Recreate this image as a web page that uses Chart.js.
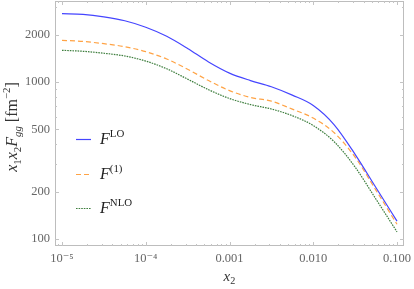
<!DOCTYPE html>
<html>
<head>
<meta charset="utf-8">
<script src="https://cdn.jsdelivr.net/npm/chart.js@4.4.0/dist/chart.umd.min.js"></script>
<style>
html,body{margin:0;padding:0;background:#fff;}
#wrap{width:414px;height:289px;position:relative;}
</style>
</head>
<body>
<div id="wrap"><canvas id="c" width="414" height="289"></canvas></div>
<script>
// ---- data ----
const x2Values = [1e-5, 1.78e-5, 3.16e-5, 5.62e-5, 1e-4, 1.78e-4, 3.16e-4, 5.62e-4, 1e-3, 1.78e-3, 3.16e-3, 5.62e-3, 0.01, 0.0178, 0.0316, 0.0562, 0.1];
const fLO  = [2723, 2696, 2602, 2457, 2234, 1957, 1637, 1341, 1139, 1021, 933, 825, 709, 534, 346, 212, 130];
const f1   = [1843, 1814, 1754, 1678, 1560, 1401, 1206, 1021, 881, 797, 755, 672, 589, 475, 332, 204, 124];
const fNLO = [1592, 1569, 1525, 1464, 1359, 1214, 1043, 893, 785, 718, 673, 610, 528, 416, 287, 179, 111];

const xTickValues = [1e-5, 1e-4, 1e-3, 1e-2, 1e-1];
const xTickLabels = ["10\u207B\u2075", "10\u207B\u2074", "0.001", "0.010", "0.100"];
const yTickValues = [100, 200, 500, 1000, 2000];
const yTickLabels = ["100", "200", "500", "1000", "2000"];

const legendNames = [
  [{t:"F", i:true}, {t:"LO", sup:true}],
  [{t:"F", i:true}, {t:"(1)", sup:true}],
  [{t:"F", i:true}, {t:"NLO", sup:true}]
];
const yTitle = [{t:"x",i:true},{t:"1",sub:true},{t:"x",i:true},{t:"2",sub:true},{t:"F",i:true},{t:"gg",i:true,sub:true},{t:" [fm"},{t:"\u22122",sup:true},{t:"]"}];
const xTitle = [{t:"x",i:true},{t:"2",sub:true}];

const colors = ["#4545ff", "#ffa345", "#3f7f3f"];
const dashes = [[], [5, 3], [1.6, 1]];

const FONT = "'Liberation Serif', 'DejaVu Serif', serif";

function toPts(ys){ return x2Values.map((x,i)=>({x:x, y:ys[i]})); }

function drawRich(ctx, segs, x, y, size, color, align){
  const parts = segs.map(s=>{
    const fs = (s.sub||s.sup) ? size*0.68 : size;
    const f = (s.i ? "italic " : "") + fs + "px " + FONT;
    ctx.font = f;
    return {s, f, w: ctx.measureText(s.t).width, dy: s.sub ? size*0.22 : (s.sup ? -size*0.42 : 0)};
  });
  const total = parts.reduce((a,p)=>a+p.w,0);
  let cx = align === "center" ? x - total/2 : x;
  ctx.fillStyle = color;
  ctx.textBaseline = "alphabetic";
  ctx.textAlign = "left";
  parts.forEach(p=>{ ctx.font = p.f; ctx.fillText(p.s.t, cx, y + p.dy); cx += p.w; });
}

const framePlugin = {
  id: "frame",
  afterDraw(chart){
    const ctx = chart.ctx, a = chart.chartArea;
    const xs = chart.scales.x, ys = chart.scales.y;
    ctx.save();
    ctx.strokeStyle = "#bdbdbd";
    ctx.lineWidth = 1;
    ctx.strokeRect(a.left+0.5, a.top+0.5, a.right-a.left-1, a.bottom-a.top-1);
    ctx.strokeStyle = "#c4c4c4";
    ctx.beginPath();
    for (let e=-6; e<=0; e++){
      for (let k=1; k<=9; k++){
        const v = k*Math.pow(10,e);
        if (v < xs.min || v > xs.max) continue;
        const px = Math.round(xs.getPixelForValue(v))+0.5;
        const L = k===1 ? 4 : 2;
        ctx.moveTo(px, a.bottom); ctx.lineTo(px, a.bottom-L);
        ctx.moveTo(px, a.top); ctx.lineTo(px, a.top+L);
      }
    }
    for (let e=1; e<=4; e++){
      for (let k=1; k<=9; k++){
        const v = k*Math.pow(10,e);
        if (v < ys.min || v > ys.max) continue;
        const py = Math.round(ys.getPixelForValue(v))+0.5;
        const L = yTickValues.includes(v) ? 4 : 2;
        ctx.moveTo(a.left, py); ctx.lineTo(a.left+L, py);
        ctx.moveTo(a.right, py); ctx.lineTo(a.right-L, py);
      }
    }
    ctx.stroke();

    const ly = [139, 174, 208];
    chart.data.datasets.forEach((ds,i)=>{
      ctx.strokeStyle = ds.borderColor;
      ctx.lineWidth = 1.2;
      ctx.setLineDash(dashes[i]);
      ctx.beginPath();
      ctx.moveTo(76, ly[i]+0.5); ctx.lineTo(91, ly[i]+0.5);
      ctx.stroke();
      ctx.setLineDash([]);
      drawRich(ctx, legendNames[i], 100, ly[i]+5, 16, "#222", "left");
    });

    drawRich(ctx, xTitle, (a.left+a.right)/2, 281, 15, "#333", "center");
    ctx.translate(17, 127);
    ctx.rotate(-Math.PI/2);
    drawRich(ctx, yTitle, 0, 0, 16, "#333", "center");
    ctx.restore();
  }
};

new Chart(document.getElementById("c"), {
  type: "scatter",
  data: {
    datasets: [
      {label:"F LO", data: toPts(fLO)},
      {label:"F (1)", data: toPts(f1)},
      {label:"F NLO", data: toPts(fNLO)}
    ].map((d,i)=>Object.assign(d, {
      showLine: true, borderColor: colors[i], backgroundColor: colors[i],
      borderWidth: 1.2, borderDash: dashes[i], pointRadius: 0,
      cubicInterpolationMode: "monotone", fill: false
    }))
  },
  options: {
    responsive: false, animation: false, devicePixelRatio: 1,
    layout: {padding: {top: 1, right: 10, left: 0, bottom: 0}},
    plugins: {legend: {display: false}, tooltip: {enabled: false}},
    scales: {
      x: {
        type: "logarithmic", min: 8.25e-6, max: 0.1212,
        grid: {display: false, drawTicks: false}, border: {display: false},
        afterBuildTicks: s => { s.ticks = xTickValues.map(v=>({value:v})); },
        afterFit: s => { s.height = 43; s.paddingLeft = 0; s.paddingRight = 0; },
        ticks: {autoSkip:false, maxRotation:0, padding: 5, color: "#666",
          font: {family: FONT, size: 12.5},
          callback: (v, i) => xTickLabels[i]}
      },
      y: {
        type: "logarithmic", min: 90.2, max: 3281,
        grid: {display: false, drawTicks: false}, border: {display: false},
        afterBuildTicks: s => { s.ticks = yTickValues.map(v=>({value:v})); },
        afterFit: s => { s.width = 55; s.paddingTop = 0; s.paddingBottom = 0; },
        ticks: {autoSkip:false, padding: 5, color: "#666",
          font: {family: FONT, size: 12.5},
          callback: (v, i) => yTickLabels[i]}
      }
    }
  },
  plugins: [framePlugin]
});
</script>
</body>
</html>
